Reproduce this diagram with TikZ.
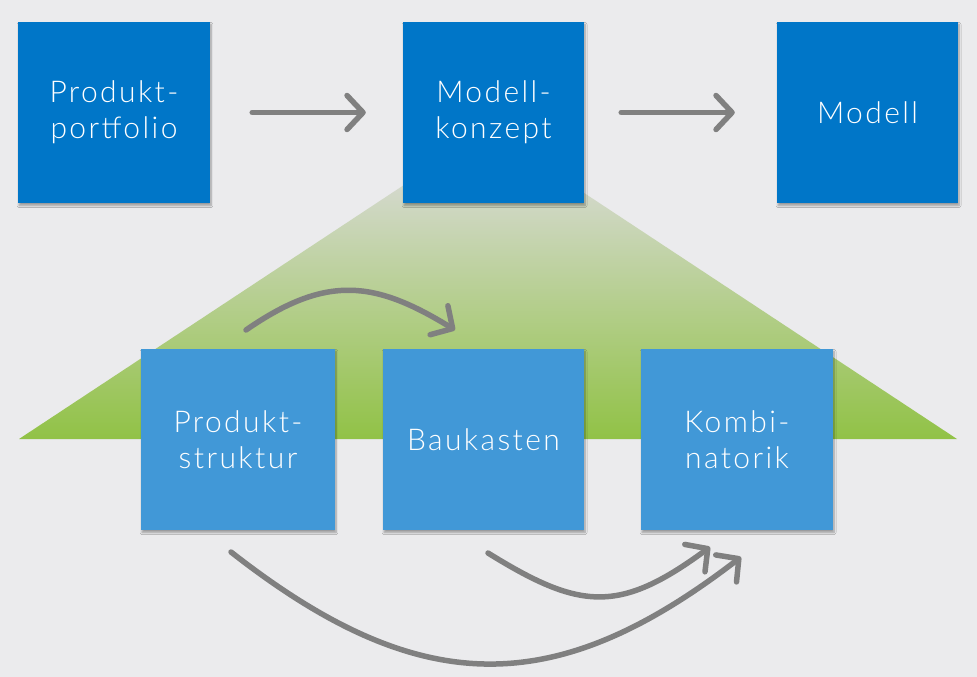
\documentclass[tikz,border=0pt]{standalone}
\usepackage{fontspec}
\setmainfont{Lato Light}[LetterSpace=8]
\usetikzlibrary{arrows.meta,shadows.blur}
\definecolor{bg}{RGB}{235,235,237}
\definecolor{topblue}{RGB}{0,118,200}
\definecolor{botblue}{RGB}{65,152,215}
\definecolor{arrowgray}{RGB}{128,128,128}
\definecolor{greentop}{RGB}{212,217,205}
\definecolor{greenbot}{RGB}{145,194,70}
\tikzset{
  box/.style={minimum height=181pt, inner sep=0pt, align=center, text=white,
    font=\fontsize{30}{36}\selectfont,
    blur shadow={shadow xshift=1pt, shadow yshift=-2.5pt, shadow blur steps=6, shadow opacity=35}},
  topbox/.style={box, fill=topblue},
  botbox/.style={box, fill=botblue},
  conn/.style={draw=arrowgray, line width=5.5pt, line cap=round,
    -{Straight Barb[length=16pt,width=34pt,round]}}
}
\begin{document}
\begin{tikzpicture}[x=1pt,y=-1pt]
\useasboundingbox (0,0) rectangle (977,677);
\fill[bg] (0,0) rectangle (977,677);
% trapezoid
\shade[top color=greentop, bottom color=greenbot]
  (19,439) -- (407,183) -- (569,183) -- (957,439) -- cycle;
% top nodes
\node[topbox, minimum width=192pt] (pp) at (114,112.5) {Produkt-\\portfolio};
\node[topbox, minimum width=181pt] (mk) at (493.5,112.5) {Modell-\\konzept};
\node[topbox, minimum width=181pt] (mo) at (867.5,112.5) {Modell};
% bottom nodes
\node[botbox, minimum width=194pt] (ps) at (238,439.5) {Produkt-\\struktur};
\node[botbox, minimum width=201pt] (bk) at (483.5,439.5) {Baukasten};
\node[botbox, minimum width=192pt] (kb) at (737,439.5) {Kombi-\\natorik};
% top arrows
\draw[conn, shorten <=42pt, shorten >=37pt] (pp.east) -- (mk.west);
\draw[conn, shorten <=37pt, shorten >=42pt] (mk.east) -- (mo.west);
% arc coordinates
\coordinate (a1s) at (246,330);
\coordinate (a1e) at (455,330);
\coordinate (a2s) at (231,552);
\coordinate (a2e) at (741,557);
\coordinate (a3s) at (488,553);
\coordinate (a3e) at (710,547);
\draw[conn] (a1s) .. controls (327,274) and (375,281) .. (a1e);
\draw[conn] (a2s) .. controls (420,700) and (555,700) .. (a2e);
\draw[conn] (a3s) .. controls (580,610) and (619,614) .. (a3e);
\end{tikzpicture}
\end{document}
